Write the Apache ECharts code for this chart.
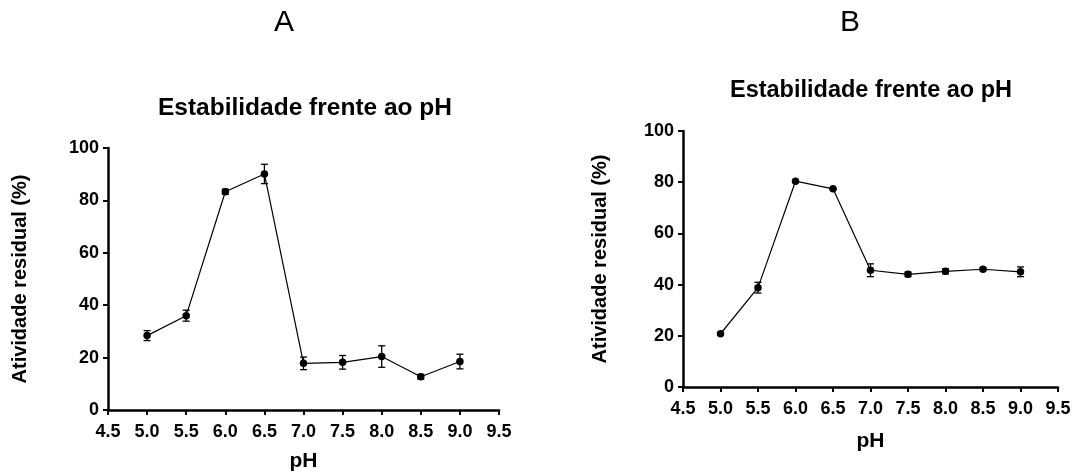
<!DOCTYPE html>
<html>
    <head>
        <meta charset="utf-8" />
        <script src="https://cdn.jsdelivr.net/npm/echarts@6.0.0/dist/echarts.min.js"></script>
        <style>
            body { margin: 0; background: #fff; }
        </style>
    </head>
    <body>
        <div id="main" style="width: 1075px; height: 472px"></div>
        <script type="text/javascript">
            // data
            var ph = [5.0, 5.5, 6.0, 6.5, 7.0, 7.5, 8.0, 8.5, 9.0];
            var meanA = [28.4, 36.0, 83.3, 90.1, 17.8, 18.2, 20.4, 12.7, 18.5];
            var errA = [1.9, 2.1, 1.0, 3.7, 2.4, 2.6, 4.1, 0.9, 2.8];
            var meanB = [20.8, 38.8, 80.4, 77.4, 45.6, 44.0, 45.2, 46.0, 45.0];
            var errB = [0, 2.1, 0, 0, 2.5, 0.9, 1.0, 0.5, 1.9];
            var yTicks = [0, 20, 40, 60, 80, 100];

            var font = "Liberation Sans, Arial, sans-serif";
            var myChart = echarts.init(document.getElementById("main"));

            function pairs(xs, ys) {
                return xs.map(function (x, i) { return [x, ys[i]]; });
            }
            function errData(xs, ys, es) {
                return xs.map(function (x, i) { return [x, ys[i] - es[i], ys[i] + es[i]]; });
            }
            function renderErr(params, api) {
                var lo = api.coord([api.value(0), api.value(1)]);
                var hi = api.coord([api.value(0), api.value(2)]);
                var w = 3.5;
                var st = { stroke: "#000", lineWidth: 1.3 };
                return {
                    type: "group",
                    children: [
                        { type: "line", shape: { x1: lo[0], y1: lo[1], x2: hi[0], y2: hi[1] }, style: st },
                        { type: "line", shape: { x1: lo[0] - w, y1: lo[1], x2: lo[0] + w, y2: lo[1] }, style: st },
                        { type: "line", shape: { x1: hi[0] - w, y1: hi[1], x2: hi[0] + w, y2: hi[1] }, style: st }
                    ]
                };
            }

            function xAxis(idx, gap) {
                return {
                    gridIndex: idx,
                    type: "value",
                    min: 4.5,
                    max: 9.5,
                    interval: 0.5,
                    name: "pH",
                    nameLocation: "middle",
                    nameGap: gap,
                    nameTextStyle: { color: "#000", fontFamily: font, fontWeight: "bold", fontSize: 21 },
                    axisLine: { show: true, onZero: false, lineStyle: { color: "#000", width: 2.5 } },
                    axisTick: { show: true, length: 5, lineStyle: { color: "#000", width: 2 } },
                    axisLabel: {
                        color: "#000", fontFamily: font, fontWeight: "bold", fontSize: 18, margin: 13,
                        formatter: function (v) { return v.toFixed(1); }
                    },
                    splitLine: { show: false }
                };
            }
            function yAxis(idx, gap) {
                return {
                    gridIndex: idx,
                    type: "value",
                    min: yTicks[0],
                    max: yTicks[yTicks.length - 1],
                    interval: 20,
                    name: "Atividade residual (%)",
                    nameLocation: "middle",
                    nameGap: gap,
                    nameTextStyle: { color: "#000", fontFamily: font, fontWeight: "bold", fontSize: 20 },
                    axisLine: { show: true, onZero: false, lineStyle: { color: "#000", width: 2.5 } },
                    axisTick: { show: true, length: 5, lineStyle: { color: "#000", width: 2 } },
                    axisLabel: { color: "#000", fontFamily: font, fontWeight: "bold", fontSize: 18, margin: 9 },
                    splitLine: { show: false }
                };
            }
            function lineSeries(idx, ys) {
                return {
                    type: "line",
                    xAxisIndex: idx,
                    yAxisIndex: idx,
                    data: pairs(ph, ys),
                    symbol: "circle",
                    symbolSize: 7.5,
                    itemStyle: { color: "#000" },
                    lineStyle: { color: "#000", width: 1.2 },
                    animation: false,
                    z: 3
                };
            }
            function errSeries(idx, ys, es) {
                return {
                    type: "custom",
                    xAxisIndex: idx,
                    yAxisIndex: idx,
                    data: errData(ph, ys, es),
                    renderItem: renderErr,
                    animation: false,
                    z: 2
                };
            }
            function txt(s, x, y, size, weight) {
                return {
                    type: "text",
                    x: x,
                    y: y,
                    style: {
                        text: s, fill: "#000", align: "center", verticalAlign: "middle",
                        font: weight + " " + size + "px " + font
                    }
                };
            }

            myChart.setOption({
                animation: false,
                grid: [
                    { left: 108, top: 148, width: 391, height: 262, outerBoundsMode: "none", containLabel: false },
                    { left: 683, top: 131, width: 375, height: 256, outerBoundsMode: "none", containLabel: false }
                ],
                xAxis: [xAxis(0, 41), xAxis(1, 44)],
                yAxis: [yAxis(0, 78), yAxis(1, 73)],
                series: [
                    errSeries(0, meanA, errA),
                    lineSeries(0, meanA),
                    errSeries(1, meanB, errB),
                    lineSeries(1, meanB)
                ],
                graphic: [
                    txt("A", 284, 23, 30, "normal"),
                    txt("B", 850, 23, 30, "normal"),
                    txt("Estabilidade frente ao pH", 305, 108, 24.5, "bold"),
                    txt("Estabilidade frente ao pH", 871, 91, 23.5, "bold")
                ]
            });
        </script>
    </body>
</html>
